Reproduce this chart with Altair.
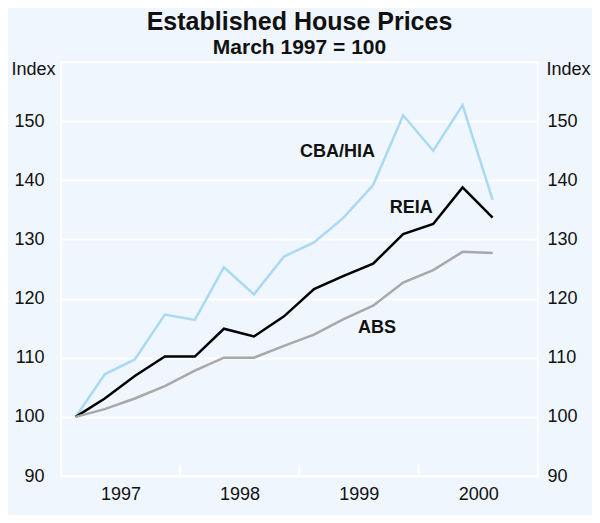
import altair as alt
import pandas as pd

dates = ["1997-02-15", "1997-05-15", "1997-08-15", "1997-11-15",
         "1998-02-15", "1998-05-15", "1998-08-15", "1998-11-15",
         "1999-02-15", "1999-05-15", "1999-08-15", "1999-11-15",
         "2000-02-15", "2000-05-15", "2000-08-15"]
cba_hia = [100, 107.2, 109.7, 117.3, 116.4, 125.3, 120.7, 127.1,
           129.5, 133.6, 139.2, 151.0, 145.0, 152.7, 136.7]
reia = [100, 103.1, 106.9, 110.2, 110.2, 114.9, 113.6, 117.0,
        121.6, 123.8, 125.9, 130.9, 132.6, 138.8, 133.7]
abs_ = [100, 101.3, 103.1, 105.2, 107.8, 110.0, 110.0, 112.0,
        113.9, 116.5, 118.8, 122.7, 124.8, 127.9, 127.7]

series_names = ["CBA/HIA", "REIA", "ABS"]
series_colors = ["#A9D9F5", "#000000", "#A8A8A8"]

year_ticks = ["1998-01-01", "1999-01-01", "2000-01-01"]
year_label_pos = ["1997-07-02", "1998-07-02", "1999-07-02", "2000-07-02"]

label_text = ["CBA/HIA", "REIA", "ABS"]
label_date = ["1999-04-28", "1999-12-10", "1999-08-27"]
label_value = [144.8, 135.3, 115.0]

BG = "#EFF6FD"
FONT = "Liberation Sans"

rows = []
for name, vals in zip(series_names, [cba_hia, reia, abs_]):
    for d, v in zip(dates, vals):
        rows.append({"date": d, "value": v, "series": name})
df = pd.DataFrame(rows)

xscale = alt.Scale(domain=["1997-01-01", "2001-01-01"])
yscale = alt.Scale(domain=[90, 160], nice=False, zero=False)

x_axis = alt.Axis(values=year_label_pos, format="%Y", ticks=False, tickSize=0,
                  grid=False, domain=False, labelPadding=9, labelFontSize=18,
                  labelFont=FONT, labelColor="#111111", title=None,
                  labelAngle=0)

left_axis = alt.Axis(orient="left", values=[90, 100, 110, 120, 130, 140, 150, 160],
                     labelExpr="datum.value == 160 ? '' : datum.label",
                     ticks=False, tickSize=0, domain=False, grid=True,
                     gridColor="white", gridWidth=2, gridOpacity=1,
                     labelPadding=17, labelFontSize=18, labelFont=FONT,
                     labelColor="#111111",
                     title="Index", titleAngle=0, titleX=-28, titleY=7,
                     titleAlign="center", titleBaseline="middle",
                     titleFontSize=18, titleFont=FONT, titleFontWeight="normal",
                     titleColor="#111111")

right_axis = alt.Axis(orient="right", values=[90, 100, 110, 120, 130, 140, 150, 160],
                      labelExpr="datum.value == 160 ? '' : datum.label",
                      ticks=False, tickSize=0, domain=False, grid=False,
                      labelPadding=9, labelFontSize=18, labelFont=FONT,
                      labelColor="#111111",
                      title="Index", titleAngle=0, titleX=30, titleY=7,
                      titleAlign="center", titleBaseline="middle",
                      titleFontSize=18, titleFont=FONT, titleFontWeight="normal",
                      titleColor="#111111")

lines = alt.Chart(df).mark_line(strokeWidth=2.5).encode(
    x=alt.X("date:T", scale=xscale, axis=x_axis),
    y=alt.Y("value:Q", scale=yscale, axis=left_axis),
    color=alt.Color("series:N", scale=alt.Scale(domain=series_names, range=series_colors),
                    legend=None),
    order=alt.Order("date:T"),
)

right = alt.Chart(df).mark_line(opacity=0).encode(
    x=alt.X("date:T", scale=xscale),
    y=alt.Y("value:Q", scale=yscale, axis=right_axis),
)

tick_df = pd.DataFrame({"date": year_ticks, "y0": [90] * 3, "y1": [91.9] * 3})
ticks = alt.Chart(tick_df).mark_rule(color="white", strokeWidth=2).encode(
    x=alt.X("date:T", scale=xscale),
    y=alt.Y("y0:Q", scale=yscale, axis=None),
    y2="y1:Q",
)

lab_df = pd.DataFrame({"text": label_text, "date": label_date, "value": label_value})
labels = alt.Chart(lab_df).mark_text(font=FONT, fontSize=18, fontWeight="bold",
                                     color="#111111", align="center",
                                     baseline="middle").encode(
    x=alt.X("date:T", scale=xscale),
    y=alt.Y("value:Q", scale=yscale, axis=None),
    text="text:N",
)

chart = alt.layer(lines, right, ticks, labels).resolve_axis(y="independent").properties(
    width=477, height=414,
    autosize="none",
    padding={"left": 53, "top": 54, "right": 54, "bottom": 39},
    background=BG,
    title=alt.TitleParams(
        text="Established House Prices",
        subtitle="March 1997 = 100",
        font=FONT, fontSize=25, fontWeight="bold", color="#111111",
        subtitleFont=FONT, subtitleFontSize=21, subtitleFontWeight="bold",
        subtitleColor="#111111", subtitlePadding=2,
        anchor="middle", frame="group", offset=2,
    ),
).configure_view(stroke="white", strokeWidth=2, fill=BG)

chart.save("out.html", embed_options={"renderer": "svg", "actions": False})
